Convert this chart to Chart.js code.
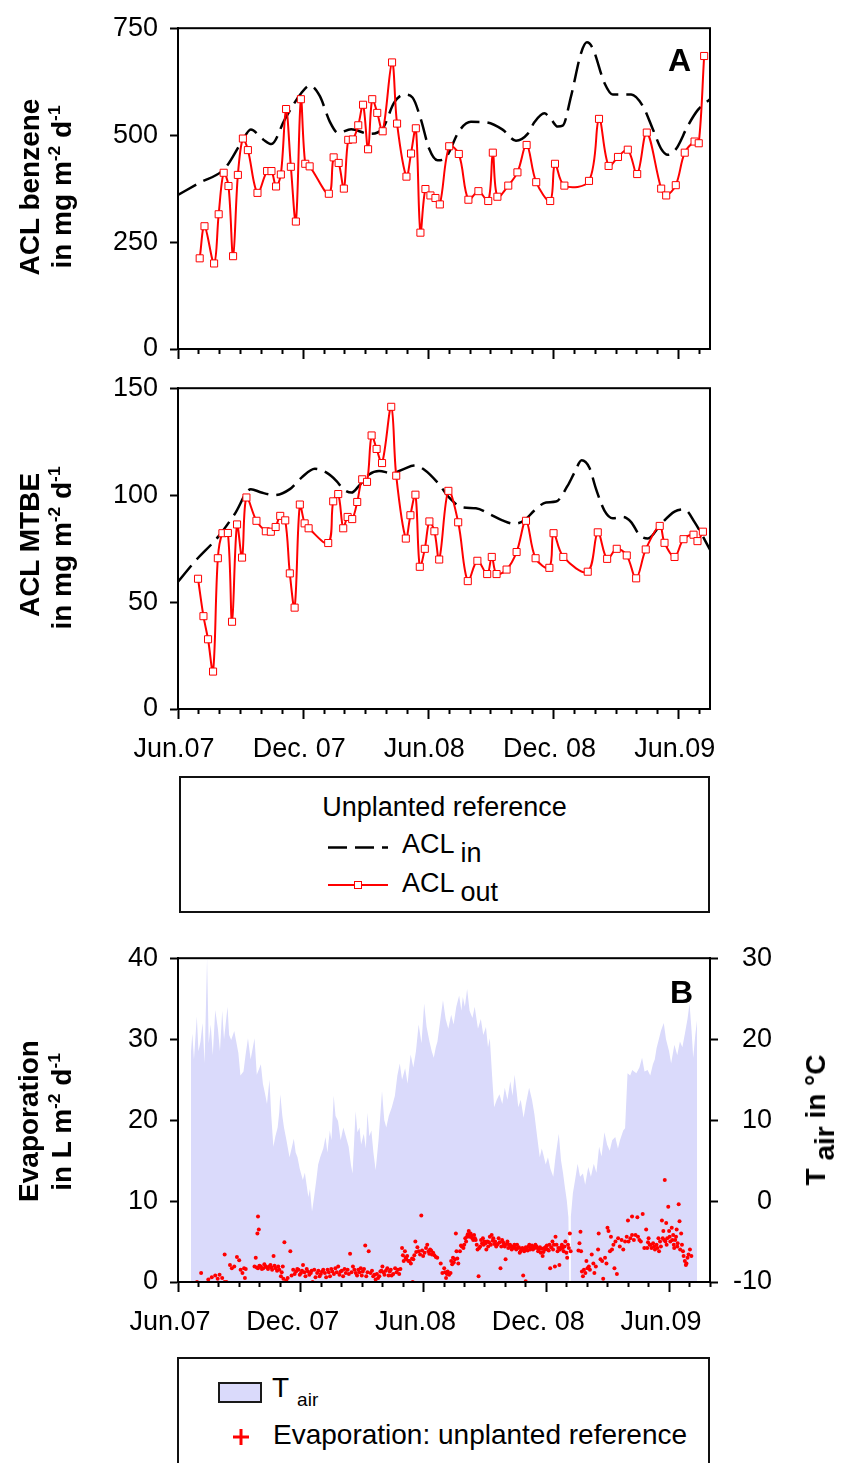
<!DOCTYPE html>
<html lang="en">
<head>
<meta charset="utf-8">
<title>ACL benzene / MTBE and evaporation – unplanted reference</title>
<script src="https://cdn.jsdelivr.net/npm/chart.js@4.4.1/dist/chart.umd.min.js"></script>
<style>
  html, body { margin: 0; padding: 0; background: #fff; }
  #page { position: relative; width: 843px; height: 1463px; overflow: hidden;
          font-family: "Liberation Sans", Arial, Helvetica, sans-serif; color: #000; }
  .chart { position: absolute; left: 0; width: 843px; }
  .chart canvas { display: block; }
  .vtitle { position: absolute; height: 28px; line-height: 28px; font-size: 28px; font-weight: bold;
            white-space: nowrap; transform: translate(-50%, -50%) rotate(-90deg); }
  .sup { font-size: 0.62em; position: relative; top: -0.62em; }
  .sub { position: relative; }
  .txt { position: absolute; white-space: nowrap; line-height: 1; }
  .box { position: absolute; border: 2px solid #111; box-sizing: border-box; }
  .letter { position: absolute; font-size: 32px; font-weight: bold; line-height: 1; }
  svg.overlay { position: absolute; left: 0; top: 0; }
</style>
</head>
<body>
<div id="page">
  <div class="chart" style="top:0;height:380px"><canvas id="chartBenzene" width="843" height="380"></canvas></div>
  <div class="chart" style="top:360px;height:410px"><canvas id="chartMtbe" width="843" height="410"></canvas></div>
  <div class="chart" style="top:930px;height:420px"><canvas id="chartEvap" width="843" height="420"></canvas></div>

  <!-- axis titles -->
  <div class="vtitle" style="left:30px;top:187px">ACL benzene</div>
  <div class="vtitle" style="left:62px;top:187px">in mg m<span class="sup">-2</span> d<span class="sup">-1</span></div>
  <div class="vtitle" style="left:30px;top:545px">ACL MTBE</div>
  <div class="vtitle" style="left:62px;top:548px">in mg m<span class="sup">-2</span> d<span class="sup">-1</span></div>
  <div class="vtitle" style="left:29px;top:1121px">Evaporation</div>
  <div class="vtitle" style="left:62px;top:1122px">in L m<span class="sup">-2</span> d<span class="sup">-1</span></div>
  <div class="vtitle" style="left:816px;top:1120px">T <span class="sub" style="top:9px">air</span> in °C</div>

  <div class="letter" style="left:668px;top:44px">A</div>
  <div class="letter" style="left:670px;top:976px">B</div>

  <!-- legend of the ACL panels -->
  <div class="box" style="left:179px;top:776px;width:531px;height:137px"></div>
  <div class="txt" style="left:179px;width:531px;text-align:center;top:794px;font-size:27px">Unplanted reference</div>
  <div class="txt" style="left:402px;top:831px;font-size:27px">ACL<span class="sub" style="top:9px;margin-left:6px">in</span></div>
  <div class="txt" style="left:402px;top:870px;font-size:27px">ACL<span class="sub" style="top:9px;margin-left:6px">out</span></div>

  <!-- legend of the evaporation panel -->
  <div class="box" style="left:177px;top:1357px;width:533px;height:140px"></div>
  <div style="position:absolute;left:218px;top:1382px;width:44px;height:21px;background:#dadafb;border:2px solid #1a1a1a;box-sizing:border-box"></div>
  <div class="txt" style="left:272px;top:1374px;font-size:28px">T<span class="sub" style="top:9px;margin-left:8px;font-size:19px">air</span></div>
  <div class="txt" style="left:273px;top:1421px;font-size:28px">Evaporation: unplanted reference</div>

  <svg class="overlay" width="843" height="1463">
    <line x1="328" y1="847.5" x2="388" y2="847.5" stroke="#000" stroke-width="2.5" stroke-dasharray="19 8"/>
    <line x1="328" y1="885" x2="388" y2="885" stroke="#ff0000" stroke-width="2"/>
    <rect x="354.5" y="881.5" width="7" height="7" fill="#fff" stroke="#ff0000" stroke-width="1"/>
    <line x1="233" y1="1437" x2="249" y2="1437" stroke="#ff0000" stroke-width="3"/>
    <line x1="241" y1="1429" x2="241" y2="1445" stroke="#ff0000" stroke-width="3"/>
  </svg>
</div>

<script>
// Time is measured in months since 1 June 2007.
const dateLabels = ['Jun.07', 'Dec. 07', 'Jun.08', 'Dec. 08', 'Jun.09'];

// Areal contaminant loads, benzene (mg m-2 d-1)
const benzeneOutMonths = [1.04, 1.27, 1.73, 1.95, 2.19, 2.42, 2.64, 2.87, 3.11, 3.35, 3.81, 4.27, 4.48, 4.70, 4.93,
  5.18, 5.41, 5.65, 5.89, 6.10, 6.31, 7.23, 7.46, 7.70, 7.95, 8.16, 8.38, 8.64, 8.87, 9.11, 9.31, 9.55, 9.81,
  10.26, 10.50, 10.95, 11.17, 11.40, 11.62, 11.86, 12.10, 12.34, 12.55, 13.00, 13.46, 13.92, 14.40, 14.87, 15.09,
  15.31, 15.83, 16.27, 16.71, 17.17, 17.84, 18.07, 18.52, 19.70, 20.18, 20.64, 21.09, 21.56, 22.01, 22.47, 23.16,
  23.40, 23.86, 24.29, 24.76, 24.96, 25.22];
const benzeneOut = [212, 287, 200, 315, 412, 381, 217, 407, 492, 465, 365, 416, 416, 380, 408,
  561, 426, 298, 584, 433, 427, 363, 448, 435, 375, 489, 490, 523, 571, 467, 584, 552, 509,
  670, 527, 403, 457, 516, 272, 374, 359, 353, 338, 474, 456, 349, 369, 346, 459,
  356, 382, 413, 477, 390, 346, 433, 382, 393, 538, 428, 449, 466, 409, 506, 375,
  359, 383, 459, 485, 481, 685];
const benzeneInMonths = [0, 1.0, 2.24, 3.04, 3.49, 4.08, 4.48, 5.12, 5.92, 6.32, 6.80, 7.28, 7.68, 8.30, 9.16,
  9.79, 10.36, 10.84, 11.24, 11.64, 12.04, 12.44, 12.84, 13.48, 14.04, 14.76, 15.56, 16.20, 16.76, 17.08, 17.56,
  17.88, 18.20, 18.44, 18.84, 19.32, 19.60, 19.88, 20.44, 20.84, 21.24, 21.72, 22.28, 22.76, 23.16, 23.48, 23.88,
  24.44, 24.92, 25.5];
const benzeneIn = [360, 388, 422, 483, 513, 490, 479, 537, 599, 616, 591, 531, 505, 514, 503,
  514, 576, 595, 588, 537, 468, 441, 448, 510, 531, 530, 513, 487, 503, 530, 551,
  537, 520, 522, 591, 692, 717, 703, 622, 595, 595, 595, 568, 514, 468, 454, 468,
  522, 559, 584];

// Areal contaminant loads, MTBE (mg m-2 d-1)
const mtbeOutMonths = [0.96, 1.22, 1.44, 1.68, 1.91, 2.13, 2.39, 2.59, 2.83, 3.07, 3.28, 3.76, 4.21, 4.45, 4.68,
  4.90, 5.14, 5.36, 5.59, 5.84, 6.07, 6.26, 7.20, 7.44, 7.68, 7.92, 8.13, 8.35, 8.59, 8.83, 9.06, 9.28, 9.52,
  9.78, 10.22, 10.46, 10.92, 11.14, 11.38, 11.59, 11.83, 12.05, 12.29, 12.52, 12.96, 13.43, 13.89, 14.35, 14.82,
  15.04, 15.27, 15.75, 16.23, 16.68, 17.14, 17.80, 18.00, 18.47, 19.64, 20.12, 20.57, 21.03, 21.51, 21.96, 22.42,
  23.09, 23.32, 23.80, 24.23, 24.71, 24.90, 25.16];
const mtbeOut = [60.9, 43.4, 32.6, 17.5, 70.5, 82.2, 82.3, 40.8, 86.3, 70.8, 98.9, 88.0, 83.1, 82.9, 85.1,
  90.3, 88.2, 63.4, 47.4, 95.6, 86.8, 84.5, 77.6, 97.1, 100.5, 84.5, 89.8, 88.8, 96.8, 107.4, 106.2, 127.9, 121.6,
  115.0, 141.3, 109.1, 79.7, 90.6, 100.2, 66.5, 74.9, 87.7, 83.1, 69.9, 102.0, 87.3, 59.8, 69.3, 63.1,
  71.1, 63.1, 65.2, 73.4, 88.0, 70.5, 66.0, 82.2, 71.1, 64.2, 82.6, 70.2, 74.9, 71.8, 61.1, 74.6,
  85.6, 77.7, 71.1, 79.4, 81.5, 78.5, 82.9];
const mtbeInMonths = [0, 0.80, 1.92, 2.72, 3.49, 4.00, 4.64, 5.36, 5.92, 6.56, 7.12, 7.60, 7.92, 8.32, 8.67,
  9.16, 9.64, 10.27, 10.84, 11.31, 11.79, 12.51, 12.99, 13.63, 14.28, 14.92, 15.55, 16.12, 16.60, 17.08, 17.64,
  18.12, 18.67, 19.00, 19.35, 19.72, 20.04, 20.44, 20.84, 21.32, 21.72, 22.12, 22.52, 23.16, 23.80, 24.28, 24.76,
  25.5];
const mtbeIn = [59.5, 68.9, 80.5, 91.2, 102.8, 101.2, 100.0, 102.8, 108.2, 112.3, 110.5, 106.6, 102.8, 101.2, 104.3,
  109.7, 111.3, 110.2, 112.3, 113.8, 112.0, 105.1, 98.9, 94.3, 93.9, 91.2, 88.2, 86.6, 88.2, 92.8, 96.6,
  97.0, 104.3, 110.5, 116.3, 112.8, 102.8, 92.8, 89.2, 89.8, 87.4, 81.3, 79.7, 86.6, 92.3, 93.3, 87.4,
  74.5];

// Air temperature, °C  [month, value]
const airTemperature = [
  [0.63, 18.3], [0.70, 20.7], [0.78, 17.5], [0.92, 22.8], [1.00, 18.5], [1.10, 19.7], [1.20, 22.0], [1.30, 17.0],
  [1.42, 30.0], [1.50, 19.5], [1.60, 21.8], [1.70, 18.0], [1.82, 23.6], [1.95, 21.3], [2.05, 18.5], [2.16, 23.5],
  [2.25, 20.0], [2.42, 24.0], [2.50, 20.5], [2.60, 19.9], [2.75, 21.0], [2.95, 18.3], [3.05, 15.5], [3.20, 16.0],
  [3.30, 18.0], [3.42, 20.1], [3.55, 17.5], [3.74, 20.1], [3.85, 15.6], [4.05, 16.9], [4.15, 14.5], [4.26, 13.2],
  [4.35, 12.0], [4.47, 15.0], [4.56, 10.5], [4.66, 6.7], [4.76, 8.0], [4.87, 9.1], [4.95, 11.0], [5.00, 13.2],
  [5.10, 10.5], [5.18, 9.1], [5.30, 7.5], [5.45, 5.4], [5.55, 6.5], [5.66, 7.7], [5.75, 6.0], [5.84, 5.4],
  [5.95, 4.0], [6.10, 2.6], [6.20, 3.5], [6.37, 0.5], [6.45, 1.5], [6.55, -1.3], [6.65, 0.5], [6.76, 2.6],
  [6.85, 4.5], [6.95, 5.4], [7.10, 6.5], [7.21, 7.9], [7.30, 6.0], [7.42, 8.7], [7.50, 7.5], [7.61, 13.0],
  [7.70, 10.5], [7.82, 9.9], [7.95, 7.5], [8.08, 9.1], [8.20, 8.0], [8.34, 6.7], [8.45, 4.5], [8.53, 3.4],
  [8.60, 7.0], [8.68, 11.1], [8.77, 8.5], [8.87, 9.1], [8.95, 7.0], [9.08, 8.3], [9.18, 6.5], [9.26, 10.9],
  [9.35, 8.0], [9.45, 8.7], [9.55, 6.0], [9.66, 3.8], [9.80, 7.5], [9.97, 13.6], [10.08, 10.0], [10.18, 9.1],
  [10.30, 10.5], [10.45, 11.6], [10.60, 13.0], [10.72, 15.5], [10.84, 17.0], [10.95, 15.0], [11.10, 16.4], [11.22, 14.5],
  [11.37, 18.1], [11.50, 16.5], [11.63, 18.5], [11.76, 21.8], [11.90, 19.5], [12.03, 24.4], [12.15, 21.5], [12.29, 19.7],
  [12.40, 18.5], [12.50, 17.7], [12.60, 19.0], [12.68, 19.7], [12.80, 22.0], [12.95, 24.8], [13.08, 22.5], [13.21, 21.3],
  [13.35, 23.0], [13.47, 21.8], [13.60, 24.0], [13.74, 25.4], [13.85, 23.5], [13.92, 25.2], [14.02, 24.0], [14.13, 26.2],
  [14.25, 23.5], [14.39, 22.6], [14.50, 24.0], [14.66, 21.3], [14.80, 22.5], [14.92, 20.5], [15.05, 21.5], [15.15, 19.0],
  [15.24, 20.1], [15.35, 15.5], [15.45, 11.6], [15.58, 12.5], [15.71, 13.2], [15.85, 12.0], [15.97, 14.0], [16.10, 12.5],
  [16.24, 14.8], [16.35, 13.0], [16.45, 15.6], [16.55, 13.5], [16.63, 11.6], [16.75, 12.5], [16.89, 10.3], [17.00, 12.0],
  [17.16, 14.0], [17.30, 12.5], [17.42, 10.7], [17.55, 8.0], [17.68, 5.4], [17.78, 6.5], [17.87, 5.6], [17.97, 4.5],
  [18.08, 5.4], [18.20, 4.0], [18.34, 3.0], [18.45, 5.5], [18.61, 8.3], [18.72, 5.0], [18.82, 3.4], [18.92, 1.5],
  [19.00, 0.1], [19.08, -2.0], [19.12, -10], [19.16, -10], [19.20, -1.9], [19.30, 1.0], [19.40, 2.5], [19.53, 4.6],
  [19.65, 3.0], [19.79, 3.4], [19.90, 2.0], [20.05, 4.2], [20.18, 3.0], [20.32, 4.6], [20.45, 3.5], [20.58, 6.7],
  [20.70, 5.5], [20.84, 8.5], [20.97, 7.0], [21.10, 6.2], [21.22, 7.5], [21.37, 7.9], [21.50, 6.5], [21.60, 7.5],
  [21.76, 8.7], [21.85, 9.0], [21.97, 15.8], [22.10, 15.5], [22.20, 16.2], [22.29, 16.0], [22.40, 15.8], [22.55, 16.5],
  [22.68, 17.7], [22.80, 16.0], [22.95, 16.2], [23.08, 15.5], [23.21, 16.9], [23.30, 17.5], [23.39, 18.9], [23.50, 20.0],
  [23.60, 21.0], [23.74, 22.0], [23.85, 20.0], [24.00, 18.5], [24.10, 17.0], [24.26, 19.3], [24.40, 18.0], [24.53, 19.7],
  [24.65, 19.0], [24.79, 20.9], [24.90, 22.5], [25.00, 24.4], [25.10, 21.0], [25.18, 17.7], [25.28, 20.5], [25.37, 22.4]
];

// Evaporation of the unplanted reference, L m-2 d-1  [month, value]
const evaporation = [
  [0.93, 0], [1.13, 1.1], [1.48, 0.3], [1.65, 0.6], [1.82, 0.8], [1.94, 0.4], [2.03, 0.9], [2.16, 0.5], [2.28, 0],
  [2.37, 0], [2.28, 3.4], [2.54, 2.1], [2.63, 1.7], [2.75, 1.9], [2.88, 3.1], [2.99, 2.7], [3.06, 1.5], [3.15, 1.1],
  [3.23, 1.7], [3.27, 0.5], [3.31, 1.6], [3.80, 3.0], [3.88, 6.0], [3.95, 6.5], [3.91, 8.1], [3.74, 1.9], [3.91, 1.7],
  [4.05, 1.9], [4.17, 1.7], [4.29, 1.9], [4.40, 1.6], [4.52, 2.1], [4.60, 1.5], [4.67, 3.2], [4.77, 1.7], [4.95, 1.5],
  [5.03, 0.7], [5.12, 1.9], [5.20, 4.9], [5.15, 0.4], [5.29, 0.2], [5.49, 3.8], [5.55, 0.8], [5.63, 1.5], [5.77, 1.3],
  [5.89, 1.5], [6.01, 1.1], [6.11, 2.1], [6.23, 0.7], [6.35, 1.3], [6.49, 1.1], [6.58, 0], [6.66, 1.5], [6.80, 1.1],
  [6.92, 0.7], [7.04, 1.3], [7.18, 1.1], [7.31, 1.5], [7.43, 0.7], [7.55, 1.3], [7.69, 1.7], [7.83, 1.9], [7.95, 1.3],
  [8.07, 0.7], [8.20, 1.1], [8.29, 1.5], [8.41, 3.5], [8.55, 1.9], [8.69, 1.1], [8.81, 1.5], [8.93, 1.7], [9.03, 1.3],
  [9.15, 4.5], [9.20, 0.7], [9.32, 3.8], [9.41, 1.1], [9.54, 0.7], [9.66, 0.3], [9.78, 0.5], [9.89, 1.3], [9.99, 1.9],
  [10.09, 0.9], [10.23, 1.7], [10.35, 1.3], [10.44, 0.8], [10.61, 1.7], [10.75, 1.5], [10.87, 1.6], [10.95, 4.2],
  [10.99, 3.3], [11.09, 3.8], [11.16, 2.8], [11.26, 2.6], [11.38, 2.3], [11.47, 0], [11.50, 2.8], [11.60, 5.0],
  [11.64, 3.7], [11.77, 3.8], [11.89, 8.2], [11.98, 3.2], [12.12, 4.2], [12.24, 3.8], [12.32, 4.0], [12.41, 3.4],
  [12.53, 3.3], [12.67, 3.0], [12.84, 2.3], [12.92, 1.1], [13.01, 1.7], [13.10, 0.5], [13.18, 1.3], [13.32, 1.1],
  [13.35, 2.6], [13.44, 3.0], [13.53, 2.8], [13.58, 6.0], [13.61, 3.8], [13.70, 2.3], [13.78, 3.8], [13.87, 4.4],
  [13.95, 4.2], [14.04, 5.4], [14.12, 5.6], [14.21, 6.3], [14.30, 6.0], [14.38, 5.4], [14.47, 5.8], [14.55, 5.2],
  [14.64, 4.0], [14.69, 0.7], [14.72, 4.2], [14.81, 5.2], [14.90, 5.4], [14.98, 5.0], [15.07, 4.0], [15.16, 4.4],
  [15.24, 5.6], [15.33, 5.8], [15.41, 5.4], [15.50, 5.0], [15.59, 4.6], [15.67, 5.4], [15.76, 1.7], [15.84, 5.2],
  [15.93, 4.6], [16.01, 2.8], [16.10, 5.0], [16.18, 4.6], [16.27, 4.4], [16.36, 4.2], [16.44, 4.6], [16.53, 4.0],
  [16.61, 4.2], [16.70, 3.6], [16.78, 4.0], [16.87, 0.8], [16.96, 4.0], [16.99, 0.1], [17.04, 4.1], [17.13, 4.4],
  [17.21, 4.0], [17.30, 4.5], [17.39, 4.3], [17.47, 4.6], [17.56, 4.2], [17.64, 4.0], [17.73, 3.6], [17.82, 3.2],
  [17.90, 4.2], [17.99, 4.4], [18.07, 4.0], [18.16, 4.6], [18.19, 1.7], [18.30, 5.0], [18.33, 4.0], [18.42, 1.9],
  [18.45, 5.6], [18.50, 4.6], [18.59, 4.2], [18.64, 2.1], [18.67, 4.0], [18.76, 4.6], [18.85, 3.8], [18.93, 5.0],
  [19.02, 3.0], [19.10, 4.2], [19.15, 6.0], [19.19, 3.8], [19.57, 3.9], [19.62, 4.8], [19.67, 6.2], [19.70, 3.8],
  [19.74, 1.3], [19.79, 0.7], [19.84, 1.5], [19.91, 1.1], [19.96, 2.6], [20.01, 1.7], [20.08, 1.9], [20.13, 1.5],
  [20.22, 3.4], [20.30, 2.3], [20.35, 1.1], [20.42, 1.9], [20.53, 4.0], [20.56, 6.0], [20.65, 2.8], [20.73, 2.6],
  [20.78, 0.4], [20.87, 3.0], [20.94, 2.3], [20.99, 6.7], [21.04, 6.3], [21.11, 3.8], [21.16, 5.6], [21.21, 4.0],
  [21.28, 4.6], [21.33, 1.7], [21.38, 5.0], [21.45, 1.0], [21.51, 5.4], [21.59, 4.4], [21.68, 5.2], [21.76, 4.0],
  [21.85, 5.0], [21.93, 5.6], [21.99, 7.6], [22.02, 5.0], [22.11, 5.4], [22.19, 5.8], [22.19, 8.1], [22.28, 5.2],
  [22.36, 5.8], [22.45, 8.0], [22.48, 5.6], [22.71, 8.4], [22.79, 4.2], [22.88, 6.5], [22.93, 4.2], [23.00, 5.4],
  [23.05, 4.6], [23.14, 4.2], [23.22, 4.8], [23.31, 4.0], [23.39, 4.6], [23.48, 5.4], [23.51, 3.8], [23.60, 4.4],
  [23.65, 7.6], [23.72, 6.3], [23.79, 12.6], [23.82, 5.0], [23.86, 7.3], [23.91, 5.4], [23.96, 9.3], [24.00, 6.3],
  [24.06, 5.0], [24.13, 6.7], [24.20, 5.8], [24.25, 4.2], [24.30, 5.2], [24.37, 6.5], [24.42, 4.8], [24.47, 9.6],
  [24.51, 7.5], [24.54, 4.0], [24.59, 6.0], [24.68, 3.8], [24.71, 3.2], [24.77, 2.6], [24.82, 2.1], [24.85, 2.3],
  [24.90, 3.0], [24.95, 3.4], [25.02, 4.0], [25.09, 3.2],
  [3.85, 1.8], [3.98, 2.0], [4.10, 1.6], [4.22, 2.2], [4.35, 1.8], [4.46, 1.9], [4.57, 1.8], [4.72, 2.0], [4.84, 1.4],
  [4.90, 1.9], [5.07, 1.2], [5.36, 0.5], [5.70, 1.0], [5.83, 1.6], [5.95, 0.9], [6.06, 1.4], [6.18, 1.2], [6.29, 1.6],
  [6.42, 0.9], [6.53, 1.4], [6.72, 0.6], [6.86, 1.4], [6.98, 1.0], [7.10, 1.5], [7.24, 0.6], [7.37, 1.2], [7.49, 1.6],
  [7.62, 1.0], [7.76, 1.2], [7.89, 0.9], [8.01, 1.4], [8.14, 1.6], [8.35, 1.0], [8.48, 1.2], [8.62, 1.5], [8.75, 0.8],
  [8.87, 1.2], [8.98, 0.8], [9.09, 1.6], [9.26, 1.2], [9.48, 1.4], [9.60, 0.9], [9.72, 1.0], [9.84, 0.7], [9.94, 1.4],
  [10.04, 1.2], [10.16, 1.4], [10.29, 0.8], [10.40, 1.5], [10.52, 1.0], [10.68, 1.2], [10.81, 1.0], [11.03, 2.6],
  [11.12, 3.0], [11.20, 3.2], [11.32, 2.6], [11.44, 2.9], [11.55, 3.3], [11.70, 4.3], [11.83, 3.4], [11.93, 3.9],
  [12.05, 3.6], [12.18, 4.6], [12.28, 3.5], [12.37, 3.9], [12.47, 3.6], [12.60, 3.1], [13.05, 1.2], [13.14, 1.0],
  [13.25, 0.9], [13.40, 2.2], [13.48, 2.4], [13.65, 2.9], [13.83, 4.5], [13.99, 4.6], [14.08, 5.0], [14.16, 5.9],
  [14.25, 5.6], [14.34, 5.7], [14.43, 5.2], [14.51, 5.4], [14.60, 4.6], [14.77, 4.4], [14.86, 4.8], [14.94, 4.6],
  [15.03, 4.8], [15.12, 5.0], [15.20, 4.9], [15.29, 4.6], [15.38, 5.1], [15.46, 4.7], [15.55, 4.4], [15.63, 4.7],
  [15.72, 4.9], [15.80, 4.4], [15.89, 4.9], [15.97, 4.4], [16.06, 4.7], [16.14, 4.2], [16.23, 4.6], [16.31, 4.0],
  [16.40, 4.4], [16.49, 4.2], [16.57, 4.6], [16.66, 4.3], [16.74, 3.8], [16.83, 4.2], [16.92, 3.8], [17.00, 4.3],
  [17.09, 3.9], [17.17, 4.6], [17.26, 4.2], [17.35, 4.0], [17.43, 4.2], [17.52, 4.4], [17.60, 3.8], [17.69, 4.3],
  [17.78, 4.1], [17.86, 3.7], [17.95, 4.0], [18.03, 4.5], [18.12, 3.9], [18.24, 4.3], [18.37, 4.6], [18.55, 3.8],
  [18.72, 4.3], [18.80, 4.2], [18.89, 4.4], [18.98, 3.6], [19.06, 4.6], [22.55, 5.2], [22.62, 5.0], [22.97, 4.9],
  [23.10, 4.6], [23.27, 4.4], [23.43, 4.2], [23.56, 5.0], [23.69, 5.4], [23.76, 5.2], [23.88, 4.6], [24.03, 5.6],
  [24.16, 5.2], [24.23, 4.6], [24.34, 5.6], [24.40, 4.4], [24.63, 4.6]
];

const FONT = "'Liberation Sans', Arial, Helvetica, sans-serif";
const RED = '#ff0000';
const LAVENDER = '#dadafb';
Chart.defaults.font.family = FONT;
Chart.defaults.color = '#000';

const toPoints = (xs, ys) => xs.map((x, i) => ({ x: x, y: ys[i] }));
const pairPoints = rows => rows.map(r => ({ x: r[0], y: r[1] }));

// strokes the box round the plotting area
const framePlugin = {
  id: 'frame',
  afterDraw(chart) {
    const a = chart.chartArea, ctx = chart.ctx;
    ctx.save();
    ctx.strokeStyle = '#000';
    ctx.lineWidth = 2;
    ctx.strokeRect(a.left, a.top, a.right - a.left, a.bottom - a.top);
    ctx.restore();
  }
};

// monthly ticks, long ones every six months
function timeAxis(max, showLabels, height, labelOffset) {
  return {
    type: 'linear', min: 0, max: max,
    afterBuildTicks(scale) {
      const t = [];
      for (let m = 0; m <= Math.floor(max); m++) t.push({ value: m });
      scale.ticks = t;
    },
    afterFit(scale) { scale.height = height; },
    grid: {
      display: true, drawOnChartArea: false, drawTicks: true,
      tickLength: 10, tickWidth: 2, tickColor: '#000',
      tickBorderDash: ctx => (ctx.tick && ctx.tick.value % 6 === 0) ? [] : [4, 40]
    },
    border: { display: true, width: 2, color: '#000' },
    ticks: {
      display: showLabels, autoSkip: false, maxRotation: 0, minRotation: 0,
      padding: 14, labelOffset: labelOffset, color: '#000',
      font: { family: FONT, size: 27 },
      callback: v => (v % 6 === 0) ? dateLabels[v / 6] : ''
    }
  };
}

function valueAxis(pos, min, max, step, width) {
  return {
    type: 'linear', position: pos, min: min, max: max,
    afterFit(scale) { scale.width = width; },
    grid: { display: true, drawOnChartArea: false, drawTicks: true, tickLength: 8, tickWidth: 2, tickColor: '#000' },
    border: { display: true, width: 2, color: '#000' },
    ticks: {
      stepSize: step, padding: 12, color: '#000', crossAlign: pos === 'right' ? 'far' : 'near',
      font: { family: FONT, size: 27 }
    }
  };
}

function aclDatasets(outX, outY, inX, inY) {
  return [
    {
      label: 'ACL out', data: toPoints(outX, outY),
      borderColor: RED, borderWidth: 2, tension: 0.35, fill: false,
      pointStyle: 'rect', pointRadius: 5, pointBackgroundColor: '#fff',
      pointBorderColor: RED, pointBorderWidth: 1
    },
    {
      label: 'ACL in', data: toPoints(inX, inY),
      borderColor: '#000', borderWidth: 2.5, borderDash: [21, 8], fill: false,
      cubicInterpolationMode: 'monotone', pointRadius: 0, clip: 0
    }
  ];
}

const baseOptions = {
  responsive: false, animation: false, events: [],
  plugins: { legend: { display: false }, tooltip: { enabled: false } }
};

new Chart(document.getElementById('chartBenzene'), {
  type: 'line',
  data: { datasets: aclDatasets(benzeneOutMonths, benzeneOut, benzeneInMonths, benzeneIn) },
  options: Object.assign({}, baseOptions, {
    layout: { padding: { left: 0, right: 133, top: 24, bottom: 0 } },
    scales: { x: timeAxis(25.5, false, 31, -4), y: valueAxis('left', 0, 750, 250, 178) }
  }),
  plugins: [framePlugin]
});

new Chart(document.getElementById('chartMtbe'), {
  type: 'line',
  data: { datasets: aclDatasets(mtbeOutMonths, mtbeOut, mtbeInMonths, mtbeIn) },
  options: Object.assign({}, baseOptions, {
    layout: { padding: { left: 0, right: 133, top: 24, bottom: 0 } },
    scales: { x: timeAxis(25.5, true, 61, -4), y: valueAxis('left', 0, 150, 50, 178) }
  }),
  plugins: [framePlugin]
});

new Chart(document.getElementById('chartEvap'), {
  type: 'line',
  data: {
    datasets: [
      {
        label: 'Evaporation: unplanted reference', data: pairPoints(evaporation), yAxisID: 'yE',
        showLine: false, pointStyle: 'circle', pointRadius: 2, pointBorderWidth: 0,
        pointBackgroundColor: RED, pointBorderColor: RED
      },
      {
        label: 'T air', data: pairPoints(airTemperature), yAxisID: 'yT',
        borderWidth: 0, borderColor: LAVENDER, backgroundColor: LAVENDER,
        fill: 'start', tension: 0, pointRadius: 0
      }
    ]
  },
  options: Object.assign({}, baseOptions, {
    layout: { padding: { left: 0, right: 71, top: 27, bottom: 0 } },
    scales: {
      x: timeAxis(26, true, 68, -8),
      yE: valueAxis('left', 0, 40, 10, 178),
      yT: valueAxis('right', -10, 30, 10, 62)
    }
  }),
  plugins: [framePlugin]
});
</script>
</body>
</html>
